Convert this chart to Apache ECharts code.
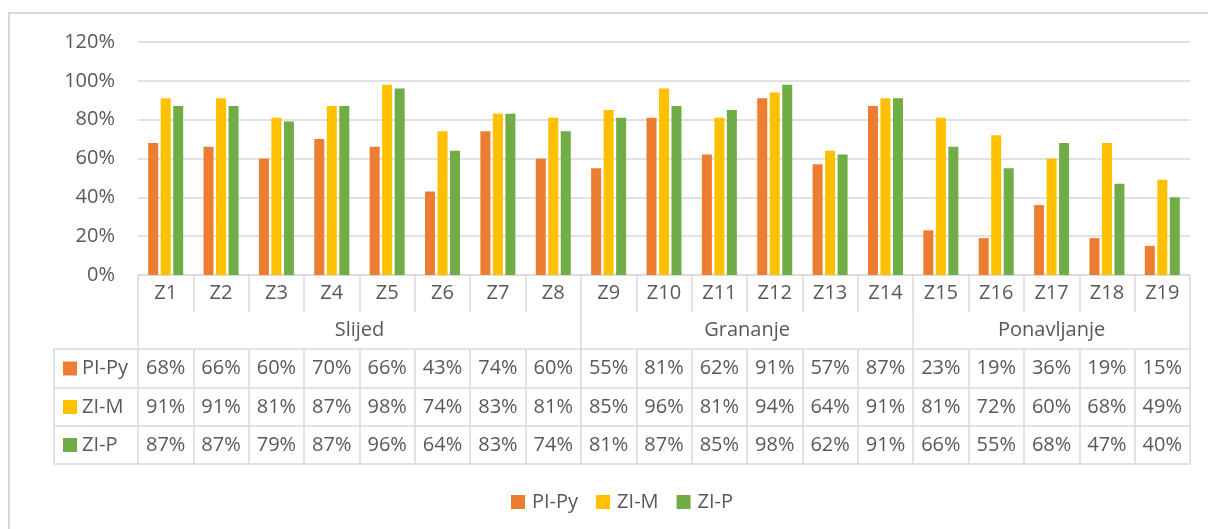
<!DOCTYPE html>
<html>
<head>
<meta charset="utf-8">
<script src="https://cdn.jsdelivr.net/npm/echarts@6/dist/echarts.min.js"></script>
<style>
  html, body { margin: 0; padding: 0; background: #fff; }
  #chart { width: 1208px; height: 529px; }
</style>
</head>
<body>
<div id="chart"></div>
<script>
// Task categories and the three measured series (percent)
const categories = ['Z1','Z2','Z3','Z4','Z5','Z6','Z7','Z8','Z9','Z10','Z11','Z12','Z13','Z14','Z15','Z16','Z17','Z18','Z19'];
const seriesNames = ['PI-Py', 'ZI-M', 'ZI-P'];
const piPy = [68, 66, 60, 70, 66, 43, 74, 60, 55, 81, 62, 91, 57, 87, 23, 19, 36, 19, 15];
const ziM  = [91, 91, 81, 87, 98, 74, 83, 81, 85, 96, 81, 94, 64, 91, 81, 72, 60, 68, 49];
const ziP  = [87, 87, 79, 87, 96, 64, 83, 74, 81, 87, 85, 98, 62, 91, 66, 55, 68, 47, 40];
// Category groups and how many tasks each one spans
const groupNames = ['Slijed', 'Grananje', 'Ponavljanje'];
const groupSizes = [8, 6, 5];

const colors = ['#ED7D31', '#FFC000', '#70AD47'];
const seriesValues = [piPy, ziM, ziP];
const textColor = '#595959';
const lineColor = '#d9d9d9';
const font = '"Open Sans", "Liberation Sans", sans-serif';
const fontSize = 20;

// Heights of the rows in the table under the plot
const catRowH = 37;
const groupRowH = 37;
const dataRowH = [39, 38, 38];

const chart = echarts.init(document.getElementById('chart'), null, { renderer: 'canvas' });

const pct = v => v + '%';
const lineStyle = { color: lineColor, width: 1.5 };

// One extra x axis per table row: its line is the row's top border,
// its ticks are the cell dividers and its labels are the cell values.
const xAxes = [{
  type: 'category',
  data: categories,
  position: 'bottom',
  axisLine: { show: true, lineStyle },
  axisTick: { show: true, length: catRowH, lineStyle },
  axisLabel: { color: textColor, fontSize, fontFamily: font, verticalAlign: 'middle', margin: catRowH / 2 },
  splitLine: { show: false }
}];
let off = catRowH + groupRowH;
seriesValues.forEach((vals, k) => {
  xAxes.push({
    type: 'category',
    data: categories,
    position: 'bottom',
    offset: off,
    axisLine: { show: true, lineStyle },
    axisTick: { show: true, length: dataRowH[k], lineStyle },
    axisLabel: {
      color: textColor, fontSize, fontFamily: font, verticalAlign: 'middle',
      margin: dataRowH[k] / 2, interval: 0,
      formatter: (v, i) => pct(vals[i])
    },
    splitLine: { show: false }
  });
  off += dataRowH[k];
});
const tableBottomOffset = off;
xAxes.push({
  type: 'category',
  data: categories,
  position: 'bottom',
  offset: tableBottomOffset,
  axisLine: { show: true, lineStyle },
  axisTick: { show: false },
  axisLabel: { show: false },
  splitLine: { show: false }
});

chart.setOption({
  backgroundColor: '#ffffff',
  animation: false,
  textStyle: { fontFamily: font },
  grid: { left: 138, right: 18, top: 42, bottom: 254, containLabel: false },
  legend: {
    data: seriesNames,
    top: 487,
    left: 506,
    icon: 'rect',
    itemWidth: 14,
    itemHeight: 14,
    itemGap: 18,
    textStyle: { color: textColor, fontSize, fontFamily: font, padding: [0, 0, 0, 2] }
  },
  xAxis: xAxes,
  yAxis: {
    type: 'value',
    min: 0,
    max: 120,
    interval: 20,
    axisLine: { show: false },
    axisTick: { show: false },
    axisLabel: { color: textColor, fontSize, fontFamily: font, margin: 23, formatter: '{value}%' },
    splitLine: { lineStyle }
  },
  series: seriesNames.map((name, k) => ({
    name,
    type: 'bar',
    xAxisIndex: 0,
    data: seriesValues[k],
    barWidth: 10,
    barGap: '25%',
    itemStyle: { color: colors[k] }
  }))
});

// Group row, legend column of the table and the outer frame
const cx = i => chart.convertToPixel({ xAxisIndex: 0 }, i);
const step = cx(1) - cx(0);
const edge = i => cx(0) - step / 2 + i * step;
const y0 = chart.convertToPixel({ yAxisIndex: 0 }, 0);
const gTop = y0 + catRowH;
const gBot = gTop + groupRowH;
const legendColLeft = 54;

const graphics = [];
graphics.push({
  type: 'rect', silent: true,
  shape: { x: 9, y: 13, width: 1400, height: 700 },
  style: { fill: null, stroke: lineColor, lineWidth: 2 }
});

let start = 0;
const bounds = [0];
groupSizes.forEach(n => { start += n; bounds.push(start); });
bounds.forEach(b => {
  graphics.push({
    type: 'line', silent: true,
    shape: { x1: edge(b), y1: gTop, x2: edge(b), y2: gBot },
    style: { stroke: lineColor, lineWidth: 1.5 }
  });
});
groupNames.forEach((name, g) => {
  const mid = (edge(bounds[g]) + edge(bounds[g + 1])) / 2;
  graphics.push({
    type: 'text', silent: true,
    x: mid, y: (gTop + gBot) / 2,
    style: { text: name, fill: textColor, font: fontSize + 'px ' + font, align: 'center', verticalAlign: 'middle' }
  });
});

// Row borders of the series-name column
let ry = gBot;
const rowTops = [ry];
dataRowH.forEach(h => { ry += h; rowTops.push(ry); });
rowTops.forEach(y => {
  graphics.push({
    type: 'line', silent: true,
    shape: { x1: legendColLeft, y1: y, x2: edge(0), y2: y },
    style: { stroke: lineColor, lineWidth: 1.5 }
  });
});
graphics.push({
  type: 'line', silent: true,
  shape: { x1: legendColLeft, y1: gBot, x2: legendColLeft, y2: ry },
  style: { stroke: lineColor, lineWidth: 1.5 }
});
seriesNames.forEach((name, k) => {
  const cy = (rowTops[k] + rowTops[k + 1]) / 2;
  graphics.push({
    type: 'rect', silent: true,
    shape: { x: legendColLeft + 9, y: cy - 7, width: 14, height: 14 },
    style: { fill: colors[k] }
  });
  graphics.push({
    type: 'text', silent: true,
    x: legendColLeft + 28, y: cy,
    style: { text: name, fill: textColor, font: fontSize + 'px ' + font, align: 'left', verticalAlign: 'middle' }
  });
});

chart.setOption({ graphic: graphics });
</script>
</body>
</html>
